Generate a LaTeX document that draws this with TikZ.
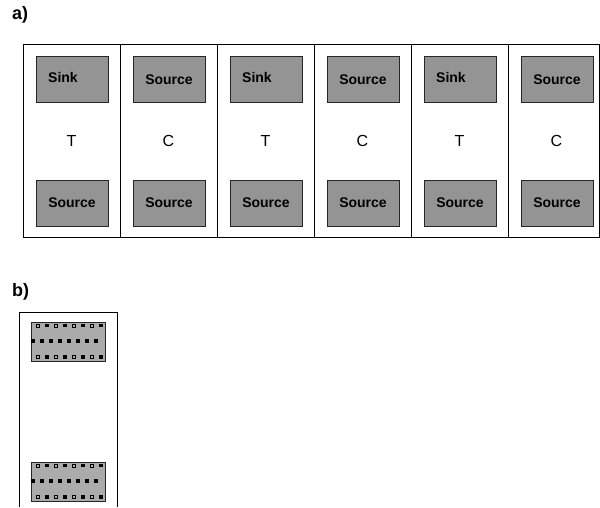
\documentclass[tikz,border=0pt]{standalone}
\usepackage{fontspec}
\setmainfont{Liberation Sans}
\begin{document}
\begin{tikzpicture}[x=1pt,y=-1pt,
  frame/.style={draw=black,line width=0.9pt},
  pad/.style={draw=black!85,line width=0.9pt,fill=black!42,minimum width=72pt,minimum height=46pt,inner sep=0pt},
  padb/.style={draw=black!85,line width=0.9pt,fill=black!33,minimum width=74pt,minimum height=38.5pt,inner sep=0pt},
  padtxt/.style={font=\fontsize{14}{15}\selectfont\bfseries,inner sep=0pt},
  mid/.style={font=\fontsize{16}{17}\selectfont,inner sep=0pt,anchor=base},
  panel/.style={font=\fontsize{18}{19}\selectfont\bfseries,inner sep=0pt,anchor=west},
  hole/.style={draw=black,fill=black!30,line width=0.9pt,minimum size=3pt,inner sep=0pt},
  dot/.style={fill=black,minimum size=3.6pt,inner sep=0pt}]
\useasboundingbox (0,0) rectangle (600,507);
\node[panel] (la) at (12,15) {a)};
\node[panel] (lb) at (12,292) {b)};
% panel a frame
\draw[frame] (23,44) rectangle (599,237);
\foreach \i in {1,...,5} {
  \draw[frame] (23+97*\i,44) -- (23+97*\i,237);
}
% columns
\foreach \i/\top/\mid in {0/Sink/T,1/Source/C,2/Sink/T,3/Source/C,4/Sink/T,5/Source/C} {
  \node[pad] (top\i) at (23+97*\i+49,79) {};
  \node[pad] (bot\i) at (23+97*\i+49,203) {};
  \node[mid] (mid\i) at (23+97*\i+48.5,146.5) {\mid};
  \node[padtxt,anchor=base] (bt\i) at (23+97*\i+49,207) {Source};
}
\foreach \i in {0,2,4} {
  \node[padtxt,anchor=base west] (tt\i) at (23+97*\i+25,82.5) {Sink};
}
\foreach \i in {1,3,5} {
  \node[padtxt,anchor=base] (tt\i) at (23+97*\i+49,84.5) {Source};
}
% panel b
\draw[frame] (19,507) -- (19,312) -- (117,312) -- (117,507);
\foreach \n/\y in {u/322,d/462} {
  \node[padb,anchor=north west] (b\n) at (31,\y) {};
  \foreach \k in {0,...,7} {
    \pgfmathsetmacro{\xx}{38+9*\k}
    \ifodd\k
      \node[dot] (b\n t\k) at (\xx,\y+3.5) {};
      \node[dot] (b\n b\k) at (\xx,\y+35) {};
    \else
      \node[hole] (b\n t\k) at (\xx,\y+3.5) {};
      \node[hole] (b\n b\k) at (\xx,\y+35) {};
    \fi
    \node[dot] (b\n m\k) at (33+9*\k,\y+19) {};
  }
}
\end{tikzpicture}
\end{document}
